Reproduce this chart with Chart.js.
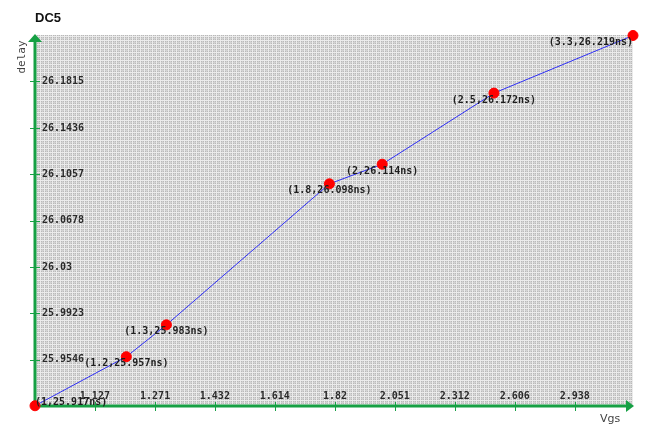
<!DOCTYPE html>
<html>
<head>
<meta charset="utf-8">
<script src="https://cdn.jsdelivr.net/npm/chart.js@4/dist/chart.umd.min.js"></script>
<style>
  html, body { margin: 0; padding: 0; background: #ffffff; }
  #wrap { width: 650px; height: 426px; position: relative; }
</style>
</head>
<body>
<div id="wrap"><canvas id="c" width="650" height="426"></canvas></div>
<script>
// Vgs sweep and measured delay (ns)
const vgsValues   = [1, 1.2, 1.3, 1.8, 2, 2.5, 3.3];
const delayValues = [25.917, 25.957, 25.983, 26.098, 26.114, 26.172, 26.219];

// Axis tick values (x on a log scale, y linear)
const xTickValues = [1.127, 1.271, 1.432, 1.614, 1.82, 2.051, 2.312, 2.606, 2.938];
const yTickValues = [25.9546, 25.9923, 26.03, 26.0678, 26.1057, 26.1436, 26.1815];

const xMin = 1, xMax = 3.3;
const yMin = 25.9168, yMax = 26.2194;

const AXIS_GREEN = '#16a044';
const MONO = 'bold 10px "DejaVu Sans Mono", "Liberation Mono", monospace';

// hatched grey backdrop for the plot area
function makePattern(ctx) {
  const t = document.createElement('canvas');
  t.width = 4; t.height = 4;
  const g = t.getContext('2d');
  g.fillStyle = '#b9b9b9';
  g.fillRect(0, 0, 4, 4);
  g.fillStyle = '#d2d2d2';
  g.fillRect(2, 0, 1, 4);
  g.fillRect(0, 2, 4, 1);
  g.fillStyle = '#ebebeb';
  g.fillRect(0, 0, 1, 4);
  g.fillRect(0, 0, 4, 1);
  return ctx.createPattern(t, 'repeat');
}

const backdrop = {
  id: 'backdrop',
  beforeDraw(chart) {
    const { ctx, chartArea: a } = chart;
    ctx.save();
    ctx.fillStyle = makePattern(ctx);
    ctx.fillRect(a.left, a.top, a.right - a.left, a.bottom - a.top);
    ctx.restore();
  }
};

// green axes with arrow heads, tick marks and inside labels
const axesDraw = {
  id: 'axesDraw',
  beforeDatasetsDraw(chart) {
    const { ctx, chartArea: a, scales } = chart;
    const xs = scales.x, ys = scales.y;
    ctx.save();
    ctx.strokeStyle = AXIS_GREEN;
    ctx.fillStyle = AXIS_GREEN;

    // axis lines
    ctx.lineWidth = 3;
    ctx.beginPath();
    ctx.moveTo(a.left, a.bottom + 1);
    ctx.lineTo(a.left, a.top + 6);
    ctx.moveTo(a.left - 1, a.bottom);
    ctx.lineTo(a.right - 6, a.bottom);
    ctx.stroke();

    // arrow heads
    ctx.beginPath();
    ctx.moveTo(a.left, a.top - 1);
    ctx.lineTo(a.left - 7, a.top + 7);
    ctx.lineTo(a.left + 7, a.top + 7);
    ctx.closePath();
    ctx.fill();
    ctx.beginPath();
    ctx.moveTo(a.right + 1, a.bottom);
    ctx.lineTo(a.right - 7, a.bottom - 6);
    ctx.lineTo(a.right - 7, a.bottom + 6);
    ctx.closePath();
    ctx.fill();

    // tick marks
    ctx.lineWidth = 1;
    ctx.beginPath();
    ys.ticks.forEach(t => {
      const y = Math.round(ys.getPixelForValue(t.value)) + 0.5;
      ctx.moveTo(a.left - 5, y);
      ctx.lineTo(a.left + 5, y);
    });
    xs.ticks.forEach(t => {
      const x = Math.round(xs.getPixelForValue(t.value)) + 0.5;
      ctx.moveTo(x, a.bottom - 4);
      ctx.lineTo(x, a.bottom + 5);
    });
    ctx.stroke();

    // tick labels
    ctx.fillStyle = '#2a2a2a';
    ctx.font = MONO;
    ctx.textBaseline = 'middle';
    ctx.textAlign = 'left';
    ys.ticks.forEach(t => {
      ctx.fillText(String(t.value), a.left + 7, ys.getPixelForValue(t.value));
    });
    ctx.textAlign = 'center';
    xs.ticks.forEach(t => {
      ctx.fillText(String(t.value), xs.getPixelForValue(t.value), a.bottom - 10);
    });

    // titles
    ctx.fillStyle = '#111111';
    ctx.font = 'bold 13px "Liberation Sans", Arial, sans-serif';
    ctx.textAlign = 'left';
    ctx.textBaseline = 'alphabetic';
    ctx.fillText('DC5', 35, 22);

    ctx.fillStyle = '#444444';
    ctx.font = '11px "DejaVu Sans", sans-serif';
    ctx.fillText('Vgs', 600, 422);

    ctx.save();
    ctx.translate(25, 57);
    ctx.rotate(-Math.PI / 2);
    ctx.textAlign = 'center';
    ctx.font = '11px "DejaVu Sans Mono", monospace';
    ctx.fillText('delay', 0, 0);
    ctx.restore();

    ctx.restore();
  }
};

// "(x,yns)" captions under every point, kept inside the plot area
const pointCaptions = {
  id: 'pointCaptions',
  afterDatasetsDraw(chart) {
    const { ctx, chartArea: a } = chart;
    const meta = chart.getDatasetMeta(0);
    ctx.save();
    ctx.font = MONO;
    ctx.fillStyle = '#1e1e1e';
    ctx.textAlign = 'center';
    ctx.textBaseline = 'middle';
    meta.data.forEach((pt, i) => {
      const txt = '(' + vgsValues[i] + ',' + delayValues[i] + 'ns)';
      const w = ctx.measureText(txt).width;
      let x = pt.x;
      let y = pt.y + 7;
      if (x - w / 2 < a.left) x = a.left + w / 2;
      if (x + w / 2 > a.right) x = a.right - w / 2;
      if (y + 4 > a.bottom) y = a.bottom - 4;
      ctx.fillText(txt, x, y);
    });
    ctx.restore();
  }
};

new Chart(document.getElementById('c'), {
  type: 'scatter',
  data: {
    datasets: [{
      data: vgsValues.map((v, i) => ({ x: v, y: delayValues[i] })),
      showLine: true,
      borderColor: '#2f2ff5',
      borderWidth: 1,
      pointBackgroundColor: '#ff0000',
      pointBorderColor: '#ff0000',
      pointRadius: 5,
      pointHoverRadius: 5,
      tension: 0,
      clip: false
    }]
  },
  options: {
    responsive: false,
    animation: false,
    devicePixelRatio: 1,
    layout: { padding: { left: 35, right: 17, top: 35, bottom: 20 } },
    plugins: { legend: { display: false }, tooltip: { enabled: false } },
    scales: {
      x: {
        type: 'logarithmic',
        min: xMin, max: xMax,
        display: false,
        afterBuildTicks: s => { s.ticks = xTickValues.map(v => ({ value: v })); }
      },
      y: {
        type: 'linear',
        min: yMin, max: yMax,
        display: false,
        afterBuildTicks: s => { s.ticks = yTickValues.map(v => ({ value: v })); }
      }
    }
  },
  plugins: [backdrop, axesDraw, pointCaptions]
});
</script>
</body>
</html>
